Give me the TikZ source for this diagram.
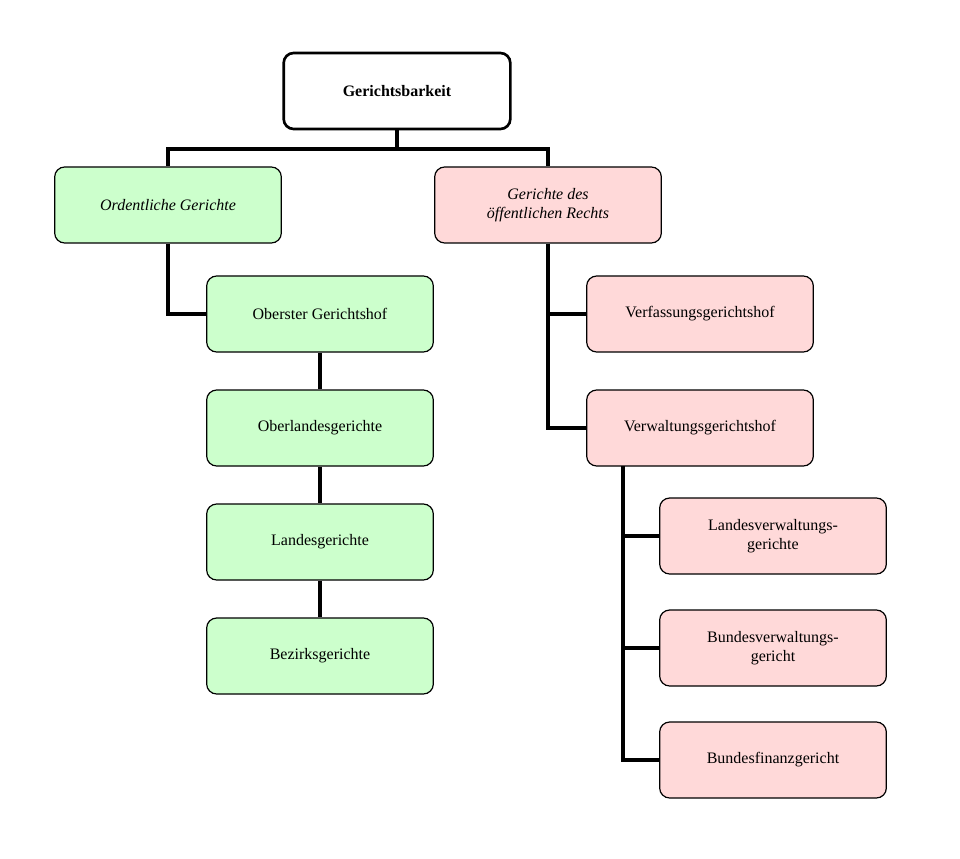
\documentclass[tikz,border=0pt]{standalone}
\usepackage{fontspec}
\setmainfont{Liberation Serif}
\begin{document}
\begin{tikzpicture}[x=0.75pt,y=-0.75pt,
  box/.style={draw=black,line width=0.9pt,rounded corners=7.5pt,minimum width=170pt,minimum height=57pt,align=center,font=\fontsize{12}{14.5}\selectfont,inner sep=2pt},
  g/.style={box,fill=green!20},
  r/.style={box,fill=red!15},
  con/.style={line width=2.8pt}]
\useasboundingbox (0,0) rectangle (960,859);
\node[box,line width=2pt,fill=white,font=\fontsize{12}{14.5}\selectfont\bfseries] (root) at (397,91) {Gerichtsbarkeit};
\node[g,font=\fontsize{12}{14.5}\selectfont\itshape] (og) at (168,205) {Ordentliche Gerichte};
\node[r,font=\fontsize{12}{14.5}\selectfont\itshape] (oe) at (548,205) {Gerichte des\\öffentlichen Rechts};
\node[g] (ogh) at (320,314) {Oberster Gerichtshof};
\node[g] (olg) at (320,428) {Oberlandesgerichte};
\node[g] (lg) at (320,542) {Landesgerichte};
\node[g] (bg) at (320,656) {Bezirksgerichte};
\node[r] (vfgh) at (700,314) {Verfassungsgerichtshof};
\node[r] (vwgh) at (700,428) {Verwaltungsgerichtshof};
\node[r] (lvg) at (773,536) {Landesverwaltungs-\\gerichte};
\node[r] (bvg) at (773,648) {Bundesverwaltungs-\\gericht};
\node[r] (bfg) at (773,760) {Bundesfinanzgericht};
\begin{scope}[on background layer/.style={}]
\draw[con] (root.south) -- ++(0,19) -| (og.north);
\draw[con] (root.south) -- ++(0,19) -| (oe.north);
\draw[con] (og.south) |- (ogh.west);
\draw[con] (ogh) -- (olg); \draw[con] (olg) -- (lg); \draw[con] (lg) -- (bg);
\draw[con] (oe.south) |- (vfgh.west);
\draw[con] (oe.south) |- (vwgh.west);
\coordinate (vb) at (623,466);
\draw[con] (vb) |- (lvg.west);
\draw[con] (vb) |- (bvg.west);
\draw[con] (vb) |- (bfg.west);
\end{scope}
\end{tikzpicture}
\end{document}
